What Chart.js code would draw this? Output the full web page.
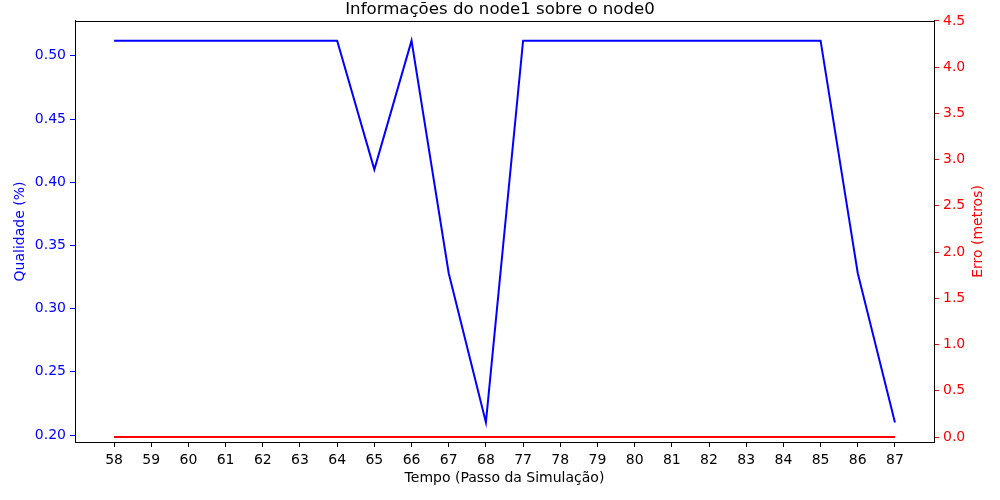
<!DOCTYPE html>
<html>
<head>
<meta charset="utf-8">
<script src="https://cdn.jsdelivr.net/npm/chart.js@4/dist/chart.umd.min.js"></script>
<style>
  html, body { margin: 0; padding: 0; background: #fff; }
  #wrap { width: 1000px; height: 500px; }
</style>
</head>
<body>
<div id="wrap"><canvas id="chart" width="1000" height="500"></canvas></div>
<script>
// simulation steps shown on the x axis (not contiguous)
const steps = ['58','59','60','61','62','63','64','65','66','67','68','77','78','79','80','81','82','83','84','85','86','87'];
// quality (left axis)
const qualidade = [0.512,0.512,0.512,0.512,0.512,0.512,0.512,0.41,0.512,0.328,0.21,0.512,0.512,0.512,0.512,0.512,0.512,0.512,0.512,0.512,0.328,0.21];
// error in metres (right axis)
const erro = [0,0,0,0,0,0,0,0,0,0,0,0,0,0,0,0,0,0,0,0,0,0];
const leftTicks = [0.20,0.25,0.30,0.35,0.40,0.45,0.50];
const rightTicks = [0.0,0.5,1.0,1.5,2.0,2.5,3.0,3.5,4.0,4.5];

const FONT = 'DejaVu Sans';

// frame around the plot area, like matplotlib spines; also the right axis
// title, which reads bottom-to-top in the original
const frame = {
  id: 'frame',
  afterDatasetsDraw(chart) {
    const a = chart.chartArea, c = chart.ctx;
    c.save();
    c.strokeStyle = '#000';
    c.lineWidth = 1;
    c.strokeRect(Math.round(a.left) + 0.5, Math.round(a.top) + 0.5, Math.round(a.right - a.left), Math.round(a.bottom - a.top));
    c.translate(978, (a.top + a.bottom) / 2);
    c.rotate(-Math.PI / 2);
    c.fillStyle = '#ff0000';
    c.font = '14px "' + FONT + '"';
    c.textAlign = 'center';
    c.textBaseline = 'middle';
    c.fillText('Erro (metros)', 0, 0);
    c.restore();
  }
};

new Chart(document.getElementById('chart').getContext('2d'), {
  type: 'line',
  data: {
    datasets: [
      { label: 'Qualidade', data: qualidade.map((v, i) => ({x: i, y: v})), yAxisID: 'y', borderColor: '#0000ff', borderWidth: 2, pointRadius: 0, fill: false, tension: 0 },
      { label: 'Erro', data: erro.map((v, i) => ({x: i, y: v})), yAxisID: 'y2', borderColor: '#ff0000', borderWidth: 2, pointRadius: 0, fill: false, tension: 0 }
    ]
  },
  options: {
    responsive: false,
    animation: false,
    layout: { padding: 0 },
    plugins: {
      legend: { display: false },
      tooltip: { enabled: false },
      title: { display: true, text: 'Informações do node1 sobre o node0', color: '#000', font: { family: FONT, size: 16.6, weight: 'normal' }, padding: { top: 0, bottom: 1 } }
    },
    scales: {
      x: {
        type: 'linear',
        min: -1.05, max: steps.length - 1 + 1.05,
        afterBuildTicks: s => { s.ticks = steps.map((_, i) => ({ value: i })); },
        afterFit: s => { s.height = 58; },
        ticks: { callback: v => steps[v], color: '#000', font: { family: FONT, size: 14 }, padding: 5, maxRotation: 0, autoSkip: false },
        grid: { display: true, drawOnChartArea: false, drawTicks: true, tickLength: 5, color: '#000' },
        border: { display: true, color: '#000' },
        title: { display: true, text: 'Tempo (Passo da Simulação)', color: '#000', font: { family: FONT, size: 14 }, padding: { top: 2, bottom: 13 } }
      },
      y: {
        position: 'left',
        min: 0.1945, max: 0.5276,
        afterBuildTicks: s => { s.ticks = leftTicks.map(v => ({ value: v })); },
        afterFit: s => { s.width = 75; },
        ticks: { callback: v => v.toFixed(2), color: '#0000ff', font: { family: FONT, size: 14 }, padding: 4 },
        grid: { display: true, drawOnChartArea: false, drawTicks: true, tickLength: 5, color: '#0000ff' },
        border: { display: true, color: '#000' },
        title: { display: true, text: 'Qualidade (%)', color: '#0000ff', font: { family: FONT, size: 14 }, padding: { top: 12, bottom: 0 } }
      },
      y2: {
        position: 'right',
        min: -0.054, max: 4.5,
        afterBuildTicks: s => { s.ticks = rightTicks.map(v => ({ value: v })); },
        afterFit: s => { s.width = 66; },
        ticks: { callback: v => v.toFixed(1), color: '#ff0000', font: { family: FONT, size: 14 }, padding: 4 },
        grid: { display: true, drawOnChartArea: false, drawTicks: true, tickLength: 5, color: '#ff0000' },
        border: { display: true, color: '#000' }
      }
    }
  },
  plugins: [frame]
});
</script>
</body>
</html>
